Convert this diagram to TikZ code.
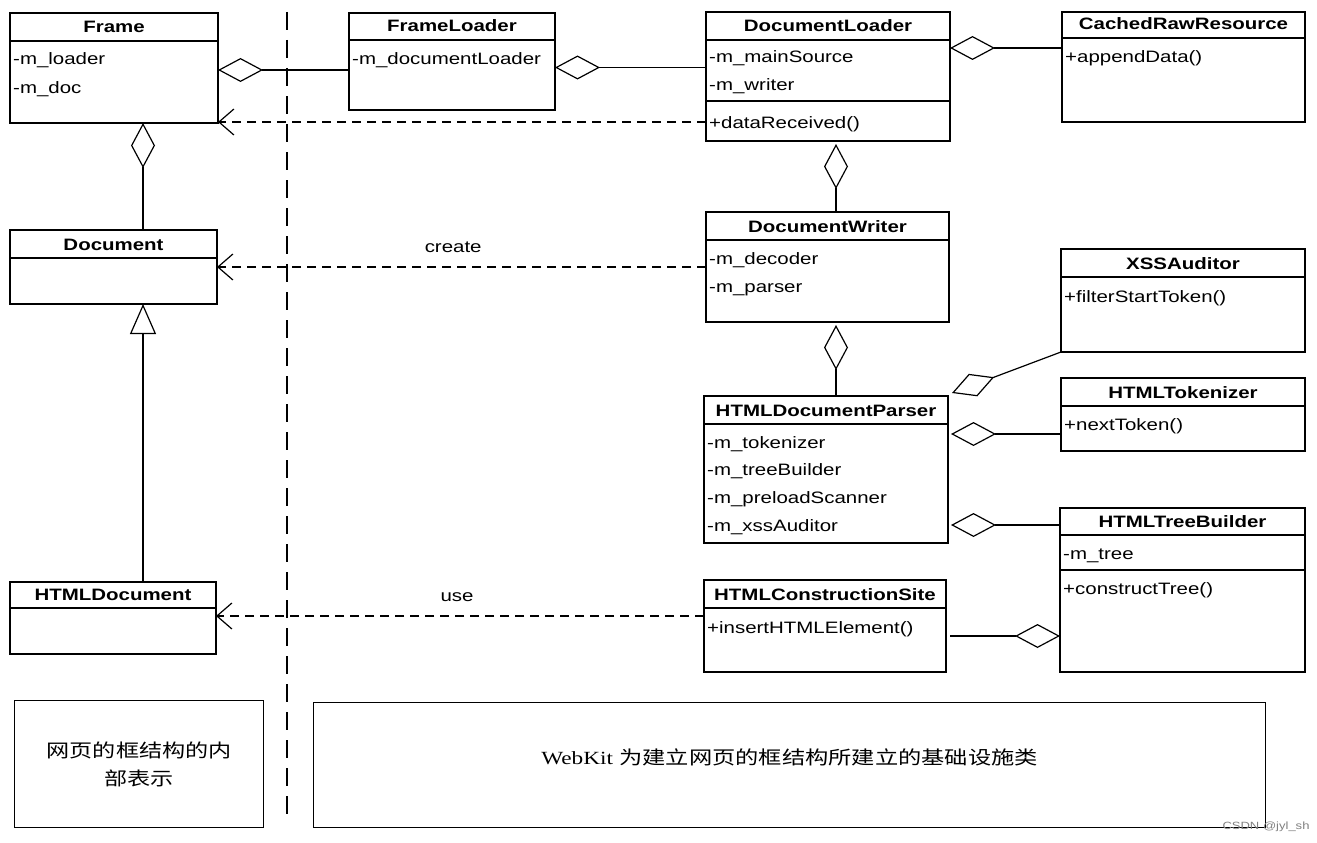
\documentclass[tikz,border=0pt]{standalone}
\usepackage{fontspec}
\setmainfont[FakeStretch=1.24]{Liberation Sans}
\newfontfamily\cjkf[FakeStretch=1.25]{Noto Sans CJK SC}
\newfontfamily\serw[FakeStretch=1.25]{Liberation Serif}
\usetikzlibrary{arrows.meta,calc}
\tikzset{
  umlbox/.style={draw, line width=1.3pt, inner sep=0pt, outer sep=0pt},
  umlline/.style={line width=1.2pt},
  umltitle/.style={font=\fontsize{16.5}{18}\selectfont\bfseries, inner sep=0pt},
  umlattr/.style={font=\fontsize{16.5}{18}\selectfont, inner sep=0pt, anchor=base west},
  agg/.tip={Diamond[open,length=45pt,width=24pt]},
  deptip/.tip={Straight Barb[length=15pt,width=26pt]},
  inh/.tip={Triangle[open,length=30pt,width=26pt]},
  assoc/.style={line width=1.2pt},
  dep/.style={line width=1.2pt, dash pattern=on 9pt off 6pt, -deptip},
  divider/.style={line width=2.4pt, dash pattern=on 18pt off 10pt},
  notebox/.style={draw, line width=1.3pt, inner sep=0pt},
  lbl/.style={font=\fontsize{16.5}{18}\selectfont, inner sep=0pt}
}
\newcommand\umlclass[7]{%
  \node[umlbox, minimum width={(#4-#2)*1pt}, minimum height={(#5-#3)*1pt}, anchor=north west] (#1) at (#2,#3) {};
  \draw[umlline] ($(#1.north west)+(0,{#6-#3})$) -- ($(#1.north east)+(0,{#6-#3})$);
  \node[umltitle, anchor=base] at ($(#1.north)+(0,{#6-#3-8})$) {#7};
}
\newcommand\attr[3]{\node[umlattr] at ($(#1.north west)+(3,{#2})$) {#3};}
\begin{document}
\begin{tikzpicture}[x=1pt,y=-1pt]
\useasboundingbox (0,0) rectangle (1317,843);

% classes
\umlclass{frame}{10}{13}{218}{123}{41}{Frame}
\attr{frame}{52}{-m\_loader}
\attr{frame}{80}{-m\_doc}

\umlclass{frameloader}{349}{13}{555}{110}{40}{FrameLoader}
\attr{frameloader}{51}{-m\_documentLoader}

\umlclass{docloader}{706}{12}{950}{141}{40}{DocumentLoader}
\attr{docloader}{51}{-m\_mainSource}
\attr{docloader}{79}{-m\_writer}
\draw[umlline] ($(docloader.north west)+(0,89)$) -- ($(docloader.north east)+(0,89)$);
\attr{docloader}{116}{+dataReceived()}

\umlclass{cached}{1062}{12}{1305}{122}{38}{CachedRawResource}
\attr{cached}{51}{+appendData()}

\umlclass{document}{10}{230}{217}{304}{258}{Document}

\umlclass{docwriter}{706}{212}{949}{322}{240}{DocumentWriter}
\attr{docwriter}{52}{-m\_decoder}
\attr{docwriter}{80}{-m\_parser}

\umlclass{xss}{1061}{249}{1305}{352}{277}{XSSAuditor}
\attr{xss}{53}{+filterStartToken()}

\umlclass{tokenizer}{1061}{378}{1305}{451}{406}{HTMLTokenizer}
\attr{tokenizer}{52}{+nextToken()}

\umlclass{parser}{704}{396}{948}{543}{424}{HTMLDocumentParser}
\attr{parser}{52}{-m\_tokenizer}
\attr{parser}{79}{-m\_treeBuilder}
\attr{parser}{107}{-m\_preloadScanner}
\attr{parser}{135}{-m\_xssAuditor}

\umlclass{treebuilder}{1060}{508}{1305}{672}{535}{HTMLTreeBuilder}
\attr{treebuilder}{51}{-m\_tree}
\draw[umlline] ($(treebuilder.north west)+(0,62)$) -- ($(treebuilder.north east)+(0,62)$);
\attr{treebuilder}{86}{+constructTree()}

\umlclass{site}{704}{580}{946}{672}{608}{HTMLConstructionSite}
\attr{site}{53}{+insertHTMLElement()}

\umlclass{htmldoc}{10}{582}{216}{654}{608}{HTMLDocument}

% divider
\coordinate (dtop) at (287,12);
\coordinate (dbot) at (287,820);
\draw[divider] (dtop) -- (dbot);

% anchor points for connectors
\coordinate (a1) at ($(frame.east)+(0,2)$);
\coordinate (a2) at ($(frameloader.east)+(0,6)$);
\coordinate (a3) at ($(docloader.north east)+(0,36)$);
\coordinate (fx) at ($(frame.south west)+(133,0)$);
\coordinate (dlx) at ($(docloader.south west)+(130,3)$);
\coordinate (dwx) at ($(docwriter.south west)+(130,3)$);
\coordinate (a7) at ($(parser.north east)+(4,-3)$);
\coordinate (a8) at ($(parser.north east)+(3,38)$);
\coordinate (a9) at ($(parser.north east)+(3,129)$);
\coordinate (a10) at ($(site.north east)+(4,56)$);
\coordinate (d1) at ($(frame.south east)+(0,-1)$);
\coordinate (d3) at ($(htmldoc.east)+(0,-2)$);

% aggregations
\draw[assoc, agg-] (a1) -- (a1 -| frameloader.west);
\draw[assoc, agg-] (a2) -- (a2 -| docloader.west);
\draw[assoc, agg-] (a3) -- (a3 -| cached.west);
\draw[assoc, agg-] (fx) -- (fx |- document.north);
\draw[assoc, agg-] (dlx) -- (dlx |- docwriter.north);
\draw[assoc, agg-] (dwx) -- (dwx |- parser.north);
\draw[assoc, agg-] (a7) -- (xss.south west);
\draw[assoc, agg-] (a8) -- (a8 -| tokenizer.west);
\draw[assoc, agg-] (a9) -- (a9 -| treebuilder.west);
\draw[assoc, -agg] (a10) -- (a10 -| treebuilder.west);

% inheritance
\draw[assoc, -inh] (fx |- htmldoc.north) -- (fx |- document.south);

% dependencies
\draw[dep] (d1 -| docloader.west) -- (d1);
\draw[dep] (document.east -| docwriter.west) -- node[lbl, pos=0.517, above=14pt] {create} (document.east);
\draw[dep] (d3 -| site.west) -- node[lbl, pos=0.506, above=14pt] {use} (d3);

% notes
\node[notebox, minimum width=249pt, minimum height=127pt, anchor=north west] (note1) at (14,700) {};
\node[font=\fontsize{18.5}{28}\selectfont\cjkf, align=center, inner sep=0pt] at (note1.center) {网页的框结构的内\\部表示};
\node[notebox, minimum width=952pt, minimum height=125pt, anchor=north west] (note2) at (313,702) {};
\node[font=\fontsize{18.6}{22}\selectfont, inner sep=0pt] at ($(note2.center)+(0,-8)$) {{\serw WebKit} {\cjkf 为建立网页的框结构所建立的基础设施类}};

% watermark
\node[font=\fontsize{10.5}{12}\selectfont, text=gray, inner sep=0pt] (wm) at (1266,827) {CSDN @jyl\_sh};
\end{tikzpicture}
\end{document}
